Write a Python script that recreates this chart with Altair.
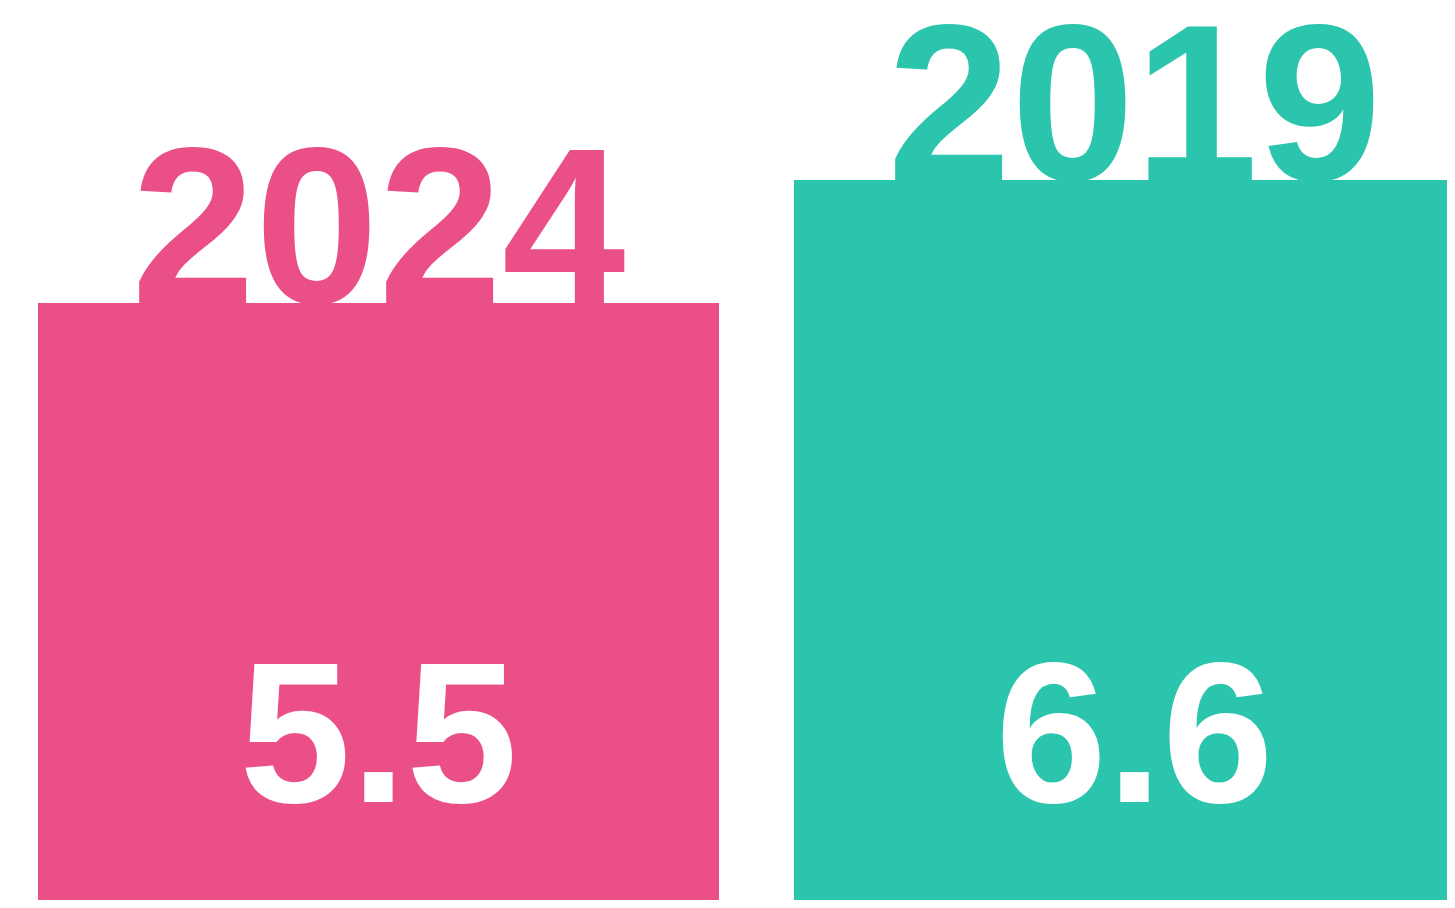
import altair as alt
import pandas as pd

years = ["2024", "2019"]
values = [5.5, 6.6]
labels = ["5.5", "6.6"]
colors = ["#EA5087", "#2BC4AC"]

df = pd.DataFrame({"year": years, "value": values, "label": labels, "base": [0, 0]})

xenc = alt.X(
    "year:N",
    sort=years,
    axis=None,
    scale=alt.Scale(range=[30, 1467], paddingInner=75 / 756, paddingOuter=0),
)
yscale = alt.Scale(domain=[0, 6.6], range=[910, 172], nice=False, zero=True)
cenc = alt.Color("year:N", scale=alt.Scale(domain=years, range=colors), legend=None)

bars = alt.Chart(df).mark_bar(clip=True).encode(
    x=xenc,
    y=alt.Y("value:Q", scale=yscale, axis=None),
    color=cenc,
)

year_text = alt.Chart(df).mark_text(
    font="Liberation Sans",
    fontWeight="bold",
    fontSize=222,
    align="center",
    baseline="alphabetic",
).encode(
    x=xenc,
    y=alt.Y("value:Q", scale=yscale, axis=None),
    text="year:N",
    color=cenc,
)

val_text = alt.Chart(df).mark_text(
    font="Liberation Sans",
    fontWeight="bold",
    fontSize=200,
    align="center",
    baseline="alphabetic",
    color="white",
    dy=-116,
).encode(
    x=xenc,
    y=alt.Y("base:Q", scale=yscale, axis=None),
    text="label:N",
)

chart = (
    alt.layer(bars, year_text, val_text)
    .properties(width=1439, height=892, padding=0, autosize="none", background="white")
    .configure_view(stroke=None)
)

chart.save("out.html", embed_options={"renderer": "svg", "actions": False})
